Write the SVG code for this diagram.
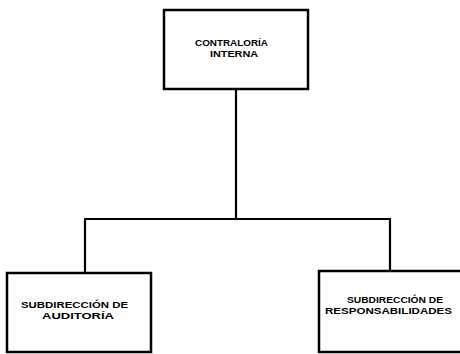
<svg xmlns="http://www.w3.org/2000/svg" width="460" height="354" viewBox="0 0 460 354">
<style>
.box{fill:#fff;stroke:#000;stroke-width:2.5}
.lbl{font-family:"Liberation Sans",Arial,sans-serif;font-weight:bold;font-size:9.5px;fill:#000}
.conn{fill:none;stroke:#000;stroke-width:2.2}
</style>
<rect width="460" height="354" fill="#fff"/>
<g id="connectors">
<line class="conn" x1="236" y1="89" x2="236" y2="219"/>
<line class="conn" x1="84" y1="219" x2="391" y2="219"/>
<line class="conn" x1="85" y1="219" x2="85" y2="273"/>
<line class="conn" x1="390" y1="219" x2="390" y2="271"/>
</g>
<g id="contraloria">
<rect class="box" x="164" y="10" width="144" height="79"/>
<text class="lbl" x="195" y="46" textLength="73" lengthAdjust="spacingAndGlyphs">CONTRALORÍA</text>
<text class="lbl" x="210" y="57" textLength="48" lengthAdjust="spacingAndGlyphs">INTERNA</text>
</g>
<g id="auditoria">
<rect class="box" x="7" y="273" width="144" height="79"/>
<text class="lbl" x="21" y="308" textLength="107" lengthAdjust="spacingAndGlyphs">SUBDIRECCIÓN DE</text>
<text class="lbl" x="42" y="319" textLength="72" lengthAdjust="spacingAndGlyphs">AUDITORÍA</text>
</g>
<g id="responsabilidades">
<rect class="box" x="319" y="271" width="145" height="81"/>
<text class="lbl" x="347" y="303" textLength="96" lengthAdjust="spacingAndGlyphs">SUBDIRECCIÓN DE</text>
<text class="lbl" x="325" y="314" textLength="127" lengthAdjust="spacingAndGlyphs">RESPONSABILIDADES</text>
</g>
</svg>
